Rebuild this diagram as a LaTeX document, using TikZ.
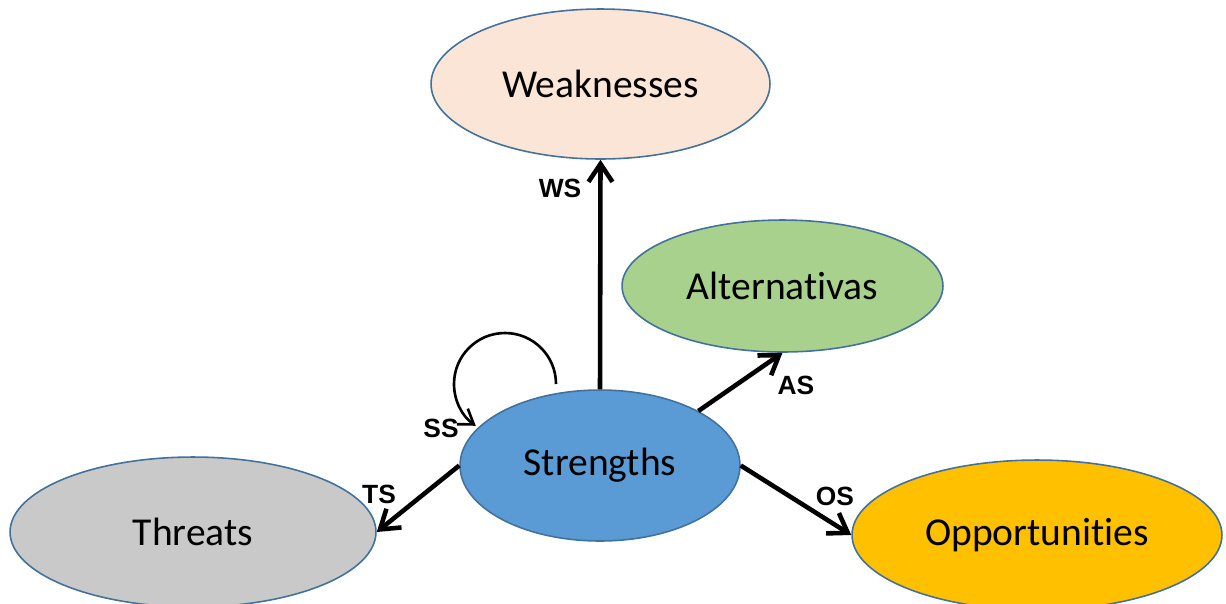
\documentclass[tikz,border=0pt]{standalone}
\usepackage{fontspec}
\setmainfont{Carlito}[RawFeature={-liga;-clig;-dlig;-calt}]
\newfontfamily\labelfont{Liberation Sans}
\usetikzlibrary{shapes.geometric,arrows.meta}
\definecolor{edgeblue}{HTML}{41719C}
\definecolor{peach}{HTML}{FBE5D6}
\definecolor{leaf}{HTML}{A9D18E}
\definecolor{midblue}{HTML}{5B9BD5}
\definecolor{stone}{HTML}{C9C9C9}
\definecolor{amber}{HTML}{FFC000}
\tikzset{
  blob/.style={ellipse, draw=edgeblue, line width=0.9pt, inner sep=0pt,
    font=\fontsize{22.5}{27}\selectfont},
  link/.style={line width=2.6pt, -{Straight Barb[length=3.6mm, width=4.8mm, line width=2.6pt]}},
  selflink/.style={line width=1.5pt, -{Straight Barb[length=2.8mm, width=3.8mm, line width=1.5pt]}},
  tag/.style={font=\labelfont\bfseries\fontsize{15}{18}\selectfont, inner sep=0pt}
}
\begin{document}
\begin{tikzpicture}[x=0.02cm, y=-0.02cm]
  \useasboundingbox (0,0) rectangle (1226,603);
  \clip (0,0) rectangle (1226,603);

  % the five factors
  \node[blob, fill=peach, minimum width=6.78cm, minimum height=3.0cm] (w) at (600.5,84) {Weaknesses};
  \node[blob, fill=leaf, minimum width=6.42cm, minimum height=2.64cm] (a) at (782.5,286) {Alternat\kern0pt ivas};
  \node[blob, fill=midblue, minimum width=5.6cm, minimum height=3.02cm] (s) at (600,465.5) {Strengths};
  \node[blob, fill=stone, minimum width=7.32cm, minimum height=3.0cm] (t) at (193,532) {Threats};
  \node[blob, fill=amber, minimum width=7.4cm, minimum height=3.0cm] (o) at (1037,535) {Opportunit\kern0pt ies};

  % relations leaving Strengths
  \draw[link] (s.north) -- (w.south);
  \draw[link] (s.29) -- (a.south);
  \draw[link] (s.east) -- (o.west);
  \draw[link] (s.west) -- (t.east);

  % self relation
  \coordinate (loopstart) at (556,384);
  \draw[selflink] (loopstart) arc[start angle=0, end angle=-235, radius=51];

  % relation labels
  \node[tag] (lws) at (560,188) {WS};
  \node[tag] (las) at (796,385) {AS};
  \node[tag] (los) at (835,496) {OS};
  \node[tag] (lts) at (379,494) {TS};
  \node[tag] (lss) at (441,428) {SS};
\end{tikzpicture}
\end{document}
